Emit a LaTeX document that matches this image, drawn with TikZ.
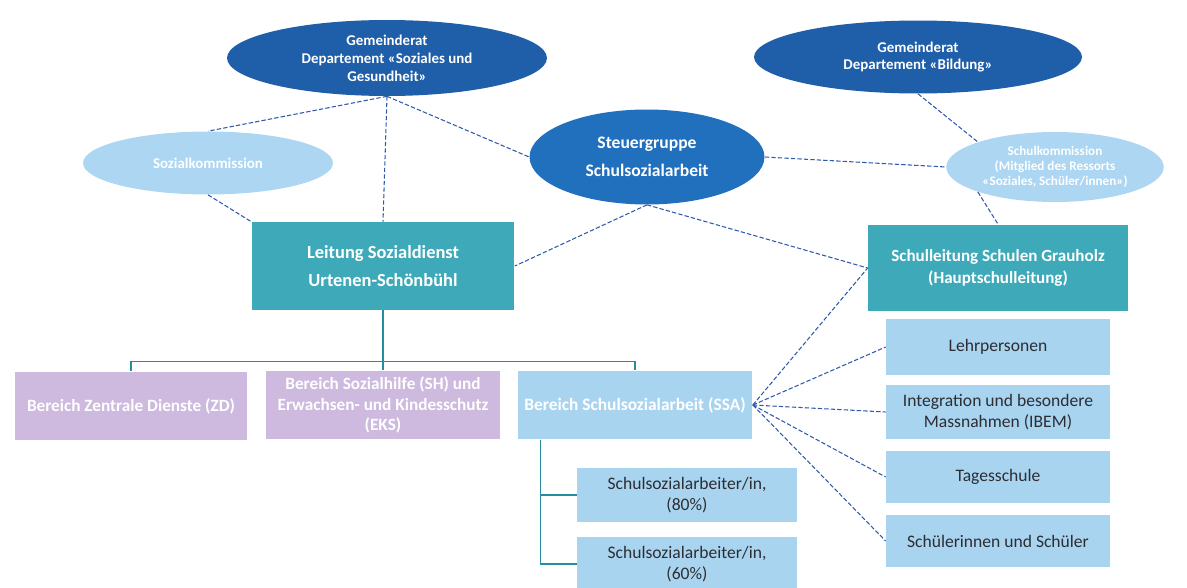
\documentclass[tikz,border=0pt]{standalone}
\usepackage{fontspec}
\setmainfont{Carlito}
\usetikzlibrary{shapes.geometric, positioning}

\definecolor{gemblau}{RGB}{31,94,168}
\definecolor{steuerblau}{RGB}{33,112,190}
\definecolor{hellblau}{RGB}{172,214,242}
\definecolor{petrol}{RGB}{62,170,185}
\definecolor{lila}{RGB}{205,186,222}
\definecolor{boxblau}{RGB}{168,212,240}
\definecolor{linieblau}{RGB}{46,90,170}
\definecolor{baumlinie}{RGB}{40,140,160}
\definecolor{schrift}{RGB}{45,45,50}

\begin{document}
\begin{tikzpicture}[
		x=0.02cm, y=-0.02cm,
		darkell/.style={
				ellipse,
				fill=gemblau,
				text=white,
				font=\bfseries\fontsize{8.5}{10.2}\selectfont,
				align=center,
				inner sep=0pt
			},
		lightell/.style={
				ellipse,
				fill=hellblau,
				text=white,
				font=\bfseries\fontsize{8.5}{10}\selectfont,
				align=center,
				inner sep=0pt
			},
		tealbox/.style={
				rectangle,
				fill=petrol,
				text=white,
				font=\bfseries\fontsize{10.5}{16}\selectfont,
				align=center
			},
		lilabox/.style={
				rectangle,
				fill=lila,
				text=white,
				font=\bfseries\fontsize{9.8}{11.8}\selectfont,
				align=center,
				minimum width=4.7cm,
				minimum height=1.38cm
			},
		bluebox/.style={
				rectangle,
				fill=boxblau,
				text=schrift,
				font=\fontsize{10}{12}\selectfont,
				align=center
			},
		dashline/.style={
				draw=linieblau,
				line width=0.6pt,
				dash pattern=on 2.5pt off 1.2pt
			},
		treeline/.style={
				draw=baumlinie,
				line width=0.7pt
			}
	]
	\useasboundingbox (0,0) rectangle (1187,588);

	% obere Ebene
	\node[darkell, minimum width=6.4cm, minimum height=1.52cm] (grsoz) at (387,58)
	{Gemeinderat\\Departement «Soziales und\\Gesundheit»};
	\node[darkell, minimum width=6.56cm, minimum height=1.46cm] (grbild) at (918,57)
	{Gemeinderat\\Departement «Bildung»};
	\node[lightell, minimum width=5cm, minimum height=1.26cm] (sozkom) at (208,163)
	{Sozialkommission};
	\node[darkell, fill=steuerblau, font=\bfseries\fontsize{10}{16}\selectfont,
		minimum width=4.7cm, minimum height=1.9cm] (steuer) at (647,157)
	{Steuergruppe\\Schulsozialarbeit};
	\node[lightell, font=\bfseries\fontsize{7.5}{8.6}\selectfont,
		minimum width=4.35cm, minimum height=1.4cm] (schulkom) at (1055,167)
	{Schulkommission\\(Mitglied des Ressorts\\«Soziales, Schüler/innen»)};

	% Leitungen
	\node[tealbox, minimum width=5.26cm, minimum height=1.76cm] (leitung) at (383,266)
	{Leitung Sozialdienst\\Urtenen-Schönbühl};
	\node[tealbox, font=\bfseries\fontsize{9.7}{12.5}\selectfont,
		minimum width=5.2cm, minimum height=1.74cm] (schulleit) at (998,268)
	{Schulleitung Schulen Grauholz\\(Hauptschulleitung)};

	% Bereiche
	\node[lilabox, minimum width=4.66cm] (zd) at (131,406) {Bereich Zentrale Dienste (ZD)};
	\node[lilabox] (sh) at (383,405)
	{Bereich Sozialhilfe (SH) und\\Erwachsen- und Kindesschutz\\(EKS)};
	\node[bluebox, text=white, font=\bfseries\fontsize{9.9}{11.8}\selectfont,
		minimum width=4.7cm, minimum height=1.38cm] (ssa) at (635,405)
	{Bereich Schulsozialarbeit (SSA)};

	% Schulsozialarbeit
	\node[bluebox, minimum width=4.4cm, minimum height=1.08cm] (sa80) at (687,495)
	{Schulsozialarbeiter/in,\\(80\%)};
	\node[bluebox, minimum width=4.4cm, minimum height=1.08cm] (sa60) at (687,564)
	{Schulsozialarbeiter/in,\\(60\%)};

	% Schule
	\node[bluebox, minimum width=4.48cm, minimum height=1.14cm] (lehr) at (998,347) {Lehrpersonen};
	\node[bluebox, minimum width=4.48cm, minimum height=1.1cm] (ibem) at (998,412)
	{Integration und besondere\\Massnahmen (IBEM)};
	\node[bluebox, minimum width=4.48cm, minimum height=1.06cm] (tages) at (998,477) {Tagesschule};
	\node[bluebox, minimum width=4.48cm, minimum height=1.06cm] (schueler) at (998,541) {Schülerinnen und Schüler};

	% gestrichelte Verbindungen
	\draw[dashline] (grsoz.south) -- (sozkom.north);
	\draw[dashline] (grsoz.south) -- (leitung.north);
	\draw[dashline] (grsoz.south) -- (steuer.west);
	\draw[dashline] (sozkom.south) -- (leitung.north west);
	\draw[dashline] (steuer.south) -- (leitung.east);
	\draw[dashline] (steuer.south) -- (schulleit.west);
	\draw[dashline] (steuer.east) -- (schulkom.west);
	\draw[dashline] (grbild.south) -- (schulkom.north west);
	\draw[dashline] (schulkom.south west) -- (schulleit.north);
	\draw[dashline] (ssa.east) -- (schulleit.west);
	\draw[dashline] (ssa.east) -- (lehr.west);
	\draw[dashline] (ssa.east) -- (ibem.west);
	\draw[dashline] (ssa.east) -- (tages.west);
	\draw[dashline] (ssa.east) -- (schueler.west);

	% Organigramm-Linien
	\draw[treeline] (leitung.south) -- (sh.north);
	\draw[treeline] (zd.north) -- ++(0,-10) -| (ssa.north);
	\draw[treeline] (ssa.south west) ++(23,0) coordinate (stamm) |- (sa80.west);
	\draw[treeline] (stamm) |- (sa60.west);
\end{tikzpicture}
\end{document}
